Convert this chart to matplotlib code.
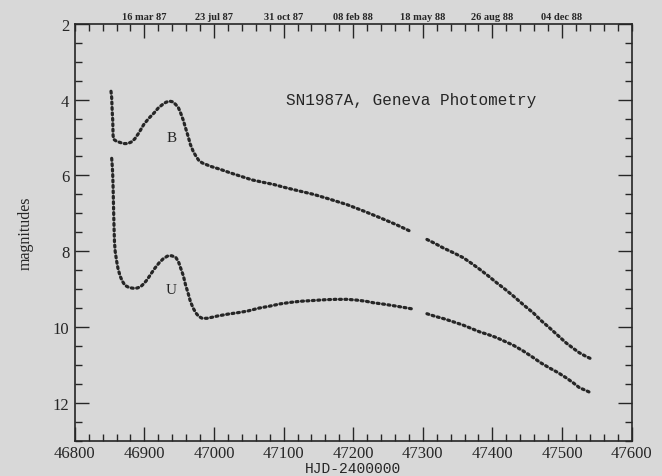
import matplotlib
matplotlib.use("Agg")
import matplotlib.pyplot as plt
import numpy as np
from matplotlib.ticker import MultipleLocator

# B band (HJD-2400000, mag)
b_hjd = [46852, 46853, 46853.5, 46854, 46854.5, 46855, 46856, 46860, 46865,
         46870, 46876, 46881, 46886, 46892, 46899, 46906, 46914, 46920, 46926,
         46931, 46936, 46941, 46945, 46949, 46952, 46956, 46959, 46963, 46966,
         46970, 46974, 46978, 46983, 46995, 47009, 47023, 47038, 47055, 47070,
         47086, 47100, 47120, 47143, 47165, 47191, 47215, 47239, 47262, 47284,
         np.nan,
         47306, 47318, 47329, 47344, 47358, 47370, 47382, 47394, 47406, 47418,
         47430, 47445, 47459, 47470, 47482, 47494, 47506, 47516, 47525, 47535,
         47542]
b_mag = [3.78, 3.95, 4.2, 4.4, 4.55, 4.95, 5.05, 5.1, 5.13,
         5.16, 5.16, 5.12, 5.04, 4.88, 4.66, 4.5, 4.35, 4.22, 4.13,
         4.07, 4.04, 4.06, 4.13, 4.22, 4.35, 4.55, 4.74, 4.98, 5.18,
         5.36, 5.49, 5.6, 5.67, 5.76, 5.84, 5.93, 6.02, 6.12, 6.18,
         6.24, 6.31, 6.40, 6.50, 6.62, 6.77, 6.94, 7.12, 7.3, 7.49,
         np.nan,
         7.69, 7.8, 7.91, 8.04, 8.17, 8.32, 8.48, 8.65, 8.83, 9.0,
         9.18, 9.42, 9.63, 9.83, 10.02, 10.22, 10.42, 10.56, 10.68, 10.78,
         10.84]

# U band
u_hjd = [46853, 46854, 46854.5, 46855, 46855.5, 46856, 46856.5, 46857, 46858,
         46860, 46862, 46865, 46868, 46872, 46878, 46885, 46890, 46895, 46899,
         46904, 46909, 46915, 46921, 46927, 46933, 46939, 46945, 46949, 46952,
         46956, 46959, 46963, 46966, 46970, 46974, 46978, 46983, 46990, 46998,
         47005, 47020, 47035, 47048, 47065, 47080, 47095, 47110, 47125, 47143,
         47160, 47175, 47191, 47205, 47218, 47229, 47245, 47262, 47275, 47284,
         np.nan,
         47306, 47318, 47330, 47345, 47358, 47370, 47382, 47394, 47406, 47418,
         47430, 47445, 47459, 47470, 47482, 47494, 47506, 47516, 47525, 47535,
         47542]
u_mag = [5.55, 5.8, 6.0, 6.3, 6.7, 7.1, 7.45, 7.75, 8.0,
         8.25, 8.45, 8.65, 8.78, 8.9, 8.96, 8.98, 8.97, 8.93, 8.86,
         8.75, 8.61, 8.45, 8.31, 8.2, 8.13, 8.12, 8.16, 8.28, 8.44,
         8.65, 8.88, 9.12, 9.32, 9.5, 9.63, 9.72, 9.77, 9.77, 9.74,
         9.71, 9.66, 9.62, 9.58, 9.5, 9.45, 9.39, 9.35, 9.32, 9.30,
         9.28, 9.27, 9.27, 9.29, 9.32, 9.36, 9.4, 9.45, 9.49, 9.52,
         np.nan,
         9.65, 9.72, 9.78, 9.87, 9.95, 10.04, 10.13, 10.2, 10.28, 10.38,
         10.48, 10.64, 10.81, 10.95, 11.08, 11.2, 11.34, 11.47, 11.6, 11.68,
         11.74]

date_ticks = [46900, 47000, 47100, 47200, 47300, 47400, 47500]
date_labels = ["16 mar 87", "23 jul 87", "31 oct 87", "08 feb 88",
               "18 may 88", "26 aug 88", "04 dec 88"]

bg = "#d8d8d8"
ink = "#262626"
serif = "Liberation Serif"

fig = plt.figure(figsize=(6.62, 4.77), dpi=100, facecolor=bg)
ax = fig.add_axes([0.113, 0.074, 0.841, 0.874], facecolor=bg)

dots = dict(color=ink, lw=2.3, ls=(0, (0.6, 1.1)), dash_capstyle="round")
ax.plot(b_hjd, b_mag, **dots)
ax.plot(u_hjd, u_mag, **dots)

ax.set_xlim(46800, 47600)
ax.set_ylim(13, 2)
ax.xaxis.set_major_locator(MultipleLocator(100))
ax.xaxis.set_minor_locator(MultipleLocator(20))
ax.yaxis.set_major_locator(MultipleLocator(2))
ax.yaxis.set_minor_locator(MultipleLocator(0.5))
ax.tick_params(which="both", direction="in", color=ink, width=1.0,
               left=True, right=True, bottom=True, top=False)
ax.tick_params(which="major", length=10, labelsize=12, labelcolor=ink, pad=4)
ax.tick_params(axis="x", which="major", pad=3)
ax.tick_params(which="minor", length=5)
for lab in ax.get_xticklabels() + ax.get_yticklabels():
    lab.set_fontfamily(serif)
for s in ax.spines.values():
    s.set_color(ink)
    s.set_linewidth(1.2)

top = ax.secondary_xaxis("top")
top.set_xticks(date_ticks)
top.set_xticklabels(date_labels, fontfamily=serif, fontsize=7.5,
                    fontweight="bold", color=ink)
top.xaxis.set_minor_locator(MultipleLocator(20))
top.tick_params(which="both", direction="in", color=ink, width=1.0, pad=2)
top.tick_params(which="major", length=10)
top.tick_params(which="minor", length=5)
top.spines["top"].set_visible(False)

ax.text(47103, 4.0, "SN1987A, Geneva Photometry", fontfamily="Liberation Mono",
        fontsize=11.5, color=ink, va="center", ha="left")
ax.text(46939, 5.0, "B", fontfamily=serif, fontsize=11, color=ink,
        ha="center", va="center")
ax.text(46939, 9.0, "U", fontfamily=serif, fontsize=11, color=ink,
        ha="center", va="center")

fig.text(0.533, 0.002, "HJD-2400000", fontfamily="Liberation Mono",
         fontsize=10.5, color=ink, ha="center", va="bottom")
ax.set_ylabel("magnitudes", fontfamily=serif, fontsize=11.5, color=ink,
              labelpad=14)

fig.savefig("out.png", dpi=100, facecolor=bg)
